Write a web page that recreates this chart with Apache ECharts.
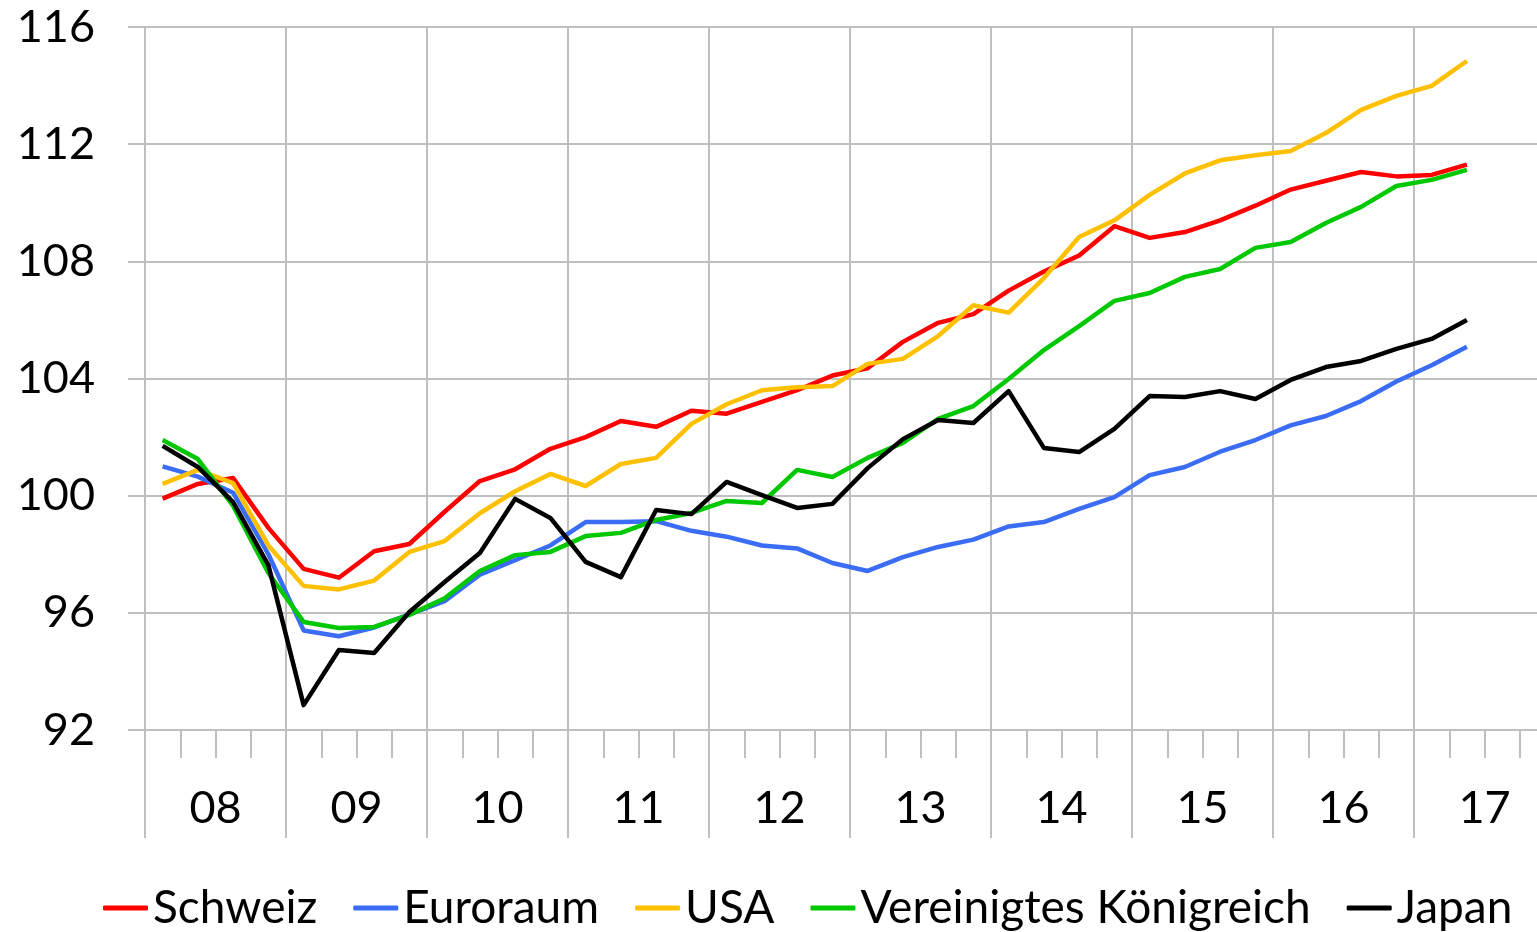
<!DOCTYPE html>
<html>
<head>
<meta charset="utf-8">
<script src="https://cdn.jsdelivr.net/npm/echarts@6/dist/echarts.min.js"></script>
<style>
  html, body { margin: 0; padding: 0; background: #fff; overflow: hidden; }
  #myChart { width: 1560px; height: 932px; }
</style>
</head>
<body>
<div id="myChart"></div>
<script>
// Quartale 2008 Q1 bis 2017 Q4 (Daten bis 2017 Q2)
const years = ["08", "09", "10", "11", "12", "13", "14", "15", "16", "17"];
const quarters = [];
for (const y of years) {
  for (let q = 1; q <= 4; q++) quarters.push(y + "Q" + q);
}

const schweiz = [99.9, 100.4, 100.6, 98.9, 97.5, 97.2, 98.1, 98.35, 99.45, 100.5,
  100.9, 101.6, 102.0, 102.55, 102.35, 102.9, 102.8, 103.2, 103.6, 104.1,
  104.35, 105.25, 105.9, 106.2, 107.0, 107.65, 108.2, 109.2, 108.8, 109.0,
  109.4, 109.9, 110.45, 110.75, 111.05, 110.9, 110.95, 111.3];
const euroraum = [101.0, 100.65, 100.1, 98.0, 95.4, 95.2, 95.5, 95.95, 96.4, 97.3,
  97.8, 98.3, 99.1, 99.1, 99.13, 98.8, 98.6, 98.3, 98.2, 97.7,
  97.43, 97.9, 98.25, 98.5, 98.95, 99.1, 99.55, 99.95, 100.7, 100.98,
  101.5, 101.9, 102.4, 102.72, 103.23, 103.9, 104.45, 105.08];
const usa = [100.4, 100.88, 100.43, 98.3, 96.92, 96.8, 97.1, 98.08, 98.45, 99.4,
  100.15, 100.74, 100.33, 101.08, 101.29, 102.45, 103.12, 103.6, 103.7, 103.74,
  104.5, 104.67, 105.45, 106.5, 106.25, 107.43, 108.83, 109.4, 110.27, 111.0,
  111.45, 111.62, 111.77, 112.38, 113.17, 113.65, 113.99, 114.84];
const vk = [101.9, 101.25, 99.65, 97.36, 95.69, 95.48, 95.52, 95.93, 96.5, 97.43,
  97.97, 98.08, 98.62, 98.73, 99.17, 99.41, 99.82, 99.75, 100.88, 100.64,
  101.29, 101.8, 102.62, 103.06, 103.98, 104.97, 105.79, 106.65, 106.92, 107.47,
  107.74, 108.46, 108.66, 109.31, 109.86, 110.57, 110.78, 111.12];
const japan = [101.7, 100.98, 99.78, 97.63, 92.85, 94.73, 94.63, 96.03, 97.05, 98.04,
  99.89, 99.24, 97.74, 97.22, 99.51, 99.37, 100.47, 100.02, 99.58, 99.72,
  100.94, 101.93, 102.58, 102.48, 103.57, 101.63, 101.49, 102.28, 103.4, 103.37,
  103.57, 103.3, 103.95, 104.39, 104.6, 105.01, 105.35, 106.0];

const seriesNames = ["Schweiz", "Euroraum", "USA", "Vereinigtes Königreich", "Japan"];
const seriesColors = ["#ff0000", "#3b6cf6", "#ffc000", "#00c800", "#000000"];
const seriesData = [schweiz, euroraum, usa, vk, japan];

const gridColor = "#bfbfbf";
const fontFamily = "Lato, 'Open Sans', sans-serif";

let myChart = echarts.init(document.getElementById("myChart"));

let option = {
  animation: false,
  textStyle: { fontFamily: fontFamily },
  grid: {
    left: 145,
    top: 27,
    width: 1410,
    height: 703,
  },
  legend: {
    data: seriesNames,
    left: 103,
    top: 885,
    padding: 0,
    icon: "roundRect",
    itemWidth: 45,
    itemHeight: 5,
    itemGap: 36,
    textStyle: { fontSize: 46, color: "#000", fontFamily: fontFamily },
  },
  xAxis: [
    {
      type: "category",
      data: quarters,
      boundaryGap: true,
      axisLine: { show: true, lineStyle: { color: gridColor, width: 2 } },
      axisTick: { show: true, interval: 0, length: 28, lineStyle: { color: gridColor, width: 2 } },
      axisLabel: { show: false },
      splitLine: { show: false },
    },
    {
      type: "category",
      data: years,
      position: "bottom",
      boundaryGap: true,
      axisLine: { show: false },
      axisTick: { show: true, interval: 0, length: 108, lineStyle: { color: gridColor, width: 2 } },
      axisLabel: { show: true, interval: 0, margin: 56, fontSize: 45, color: "#000", fontFamily: fontFamily },
      splitLine: { show: true, interval: 0, lineStyle: { color: gridColor, width: 2 } },
    },
  ],
  yAxis: {
    type: "value",
    min: 92,
    max: 116,
    interval: 4,
    axisLine: { show: false },
    axisTick: { show: true, length: 17, lineStyle: { color: gridColor, width: 2 } },
    axisLabel: { margin: 50, fontSize: 45, color: "#000", fontFamily: fontFamily },
    splitLine: { show: true, lineStyle: { color: gridColor, width: 2 } },
  },
  series: seriesNames.map((name, i) => ({
    name: name,
    type: "line",
    xAxisIndex: 0,
    data: seriesData[i],
    symbol: "none",
    color: seriesColors[i],
    lineStyle: { width: 4.5, color: seriesColors[i], join: "round" },
  })),
};

myChart.setOption(option);
</script>
</body>
</html>
